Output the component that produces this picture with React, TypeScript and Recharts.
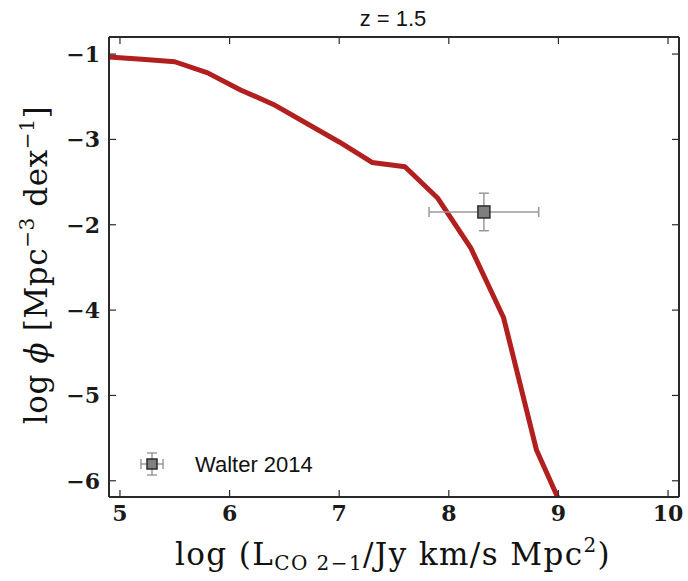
import React from "react";
import {
  ComposedChart,
  Line,
  Scatter,
  XAxis,
  YAxis,
  ErrorBar,
  Customized,
} from "recharts";

// Model luminosity function at z = 1.5
const logL = [4.9, 5.2, 5.5, 5.8, 6.1, 6.4, 7.0, 7.3, 7.6, 7.9, 8.2, 8.5, 8.8, 9.1];
const logPhi = [-1.035, -1.06, -1.09, -1.22, -1.42, -1.59, -2.03, -2.27, -2.32, -2.69, -3.27, -4.09, -5.64, -6.5];

// Walter 2014 measurement
const obsL = [8.32];
const obsPhi = [-2.85];
const obsLErr = [0.5];
const obsPhiErr = [0.22];

// Axis ticks and their printed labels
const xTicks = [5, 6, 7, 8, 9, 10];
const yTicks = [-1, -2, -3, -4, -5, -6];
const yTickLabels = ["\u22121", "\u22123", "\u22122", "\u22124", "\u22125", "\u22126"];

const modelData = logL.map((x, i) => ({ x, y: logPhi[i] }));
const obsData = obsL.map((x, i) => ({ x, y: obsPhi[i], xErr: obsLErr[i], yErr: obsPhiErr[i] }));

const W = 688;
const H = 581;
const X_DOMAIN: [number, number] = [4.9, 10.1];
const Y_DOMAIN: [number, number] = [-6.19, -0.8];

const AXIS_COLOR = "#2a2a2a";
const tickFont = { fontFamily: "DejaVu Serif", fontWeight: "bold", fontSize: 22, fill: "#1a1a1a" } as const;
const labelFont = "DejaVu Serif";

// tick marks only, no text (for the top and right sides of the frame)
const NoLabel = () => <g />;

const SquareMarker = (p: any) => (
  <rect x={p.cx - 6} y={p.cy - 6} width={12} height={12} fill="#7f7f7f" stroke="#2b2b2b" strokeWidth={1.5} />
);

const Decorations = () => (
  <g>
    {/* title */}
    <text x={393} y={26} textAnchor="middle" fontFamily="Liberation Sans" fontSize={22} fill="#111">
      z = 1.5
    </text>
    {/* y axis label */}
    <text
      transform="translate(47,265) rotate(-90)"
      textAnchor="middle"
      fontFamily={labelFont}
      fontSize={31}
      letterSpacing={0.6}
      fill="#111"
    >
      <tspan>log </tspan>
      <tspan fontStyle="italic">ϕ</tspan>
      <tspan> [Mpc</tspan>
      <tspan fontSize={20} dy={-13}>{"\u22123"}</tspan>
      <tspan dy={13}> dex</tspan>
      <tspan fontSize={20} dy={-13}>{"\u22121"}</tspan>
      <tspan dy={13}>]</tspan>
    </text>
    {/* x axis label */}
    <text x={393} y={565} textAnchor="middle" fontFamily={labelFont} fontSize={31} letterSpacing={1.4} fill="#111">
      <tspan>log (L</tspan>
      <tspan fontSize={20} dy={5}>{"CO 2\u22121"}</tspan>
      <tspan dy={-5}>/Jy km/s Mpc</tspan>
      <tspan fontSize={20} dy={-13}>2</tspan>
      <tspan dy={13}>)</tspan>
    </text>
    {/* legend */}
    <g stroke="#9a9a9a" strokeWidth={1.5}>
      <line x1={141} y1={464} x2={163} y2={464} />
      <line x1={141} y1={459} x2={141} y2={469} />
      <line x1={163} y1={459} x2={163} y2={469} />
      <line x1={152} y1={453} x2={152} y2={475} />
      <line x1={147} y1={453} x2={157} y2={453} />
      <line x1={147} y1={475} x2={157} y2={475} />
    </g>
    <rect x={147} y={459} width={10} height={10} fill="#7f7f7f" stroke="#2b2b2b" strokeWidth={1.5} />
    <text x={195} y={472} fontFamily="Liberation Sans" fontSize={22} fill="#111">
      Walter 2014
    </text>
  </g>
);

export default function App() {
  return (
    <div style={{ position: "absolute", left: 0, top: 0, width: W, height: H, background: "#fff" }}>
      <ComposedChart width={W} height={H} margin={{ top: 36, right: 8, bottom: 0, left: 0 }}>
        <XAxis
          xAxisId="bottom"
          type="number"
          dataKey="x"
          domain={X_DOMAIN}
          ticks={xTicks}
          allowDataOverflow
          height={84}
          orientation="bottom"
          stroke={AXIS_COLOR}
          strokeWidth={2}
          tickSize={-7}
          tickMargin={15}
          tickLine={{ stroke: AXIS_COLOR, strokeWidth: 1.2 }}
          tick={tickFont}
        />
        <XAxis
          xAxisId="top"
          type="number"
          dataKey="x"
          domain={X_DOMAIN}
          ticks={xTicks}
          allowDataOverflow
          height={1}
          orientation="top"
          stroke={AXIS_COLOR}
          strokeWidth={2}
          tickSize={-7}
          tick={NoLabel}
          tickLine={{ stroke: AXIS_COLOR, strokeWidth: 1.2 }}
        />
        <YAxis
          yAxisId="left"
          type="number"
          dataKey="y"
          domain={Y_DOMAIN}
          ticks={yTicks}
          allowDataOverflow
          width={109}
          orientation="left"
          stroke={AXIS_COLOR}
          strokeWidth={2}
          tickSize={-7}
          tickMargin={16}
          tickLine={{ stroke: AXIS_COLOR, strokeWidth: 1.2 }}
          tick={tickFont}
          tickFormatter={(v: number) => yTickLabels[yTicks.indexOf(v)] ?? String(v)}
        />
        <YAxis
          yAxisId="right"
          type="number"
          dataKey="y"
          domain={Y_DOMAIN}
          ticks={yTicks}
          allowDataOverflow
          width={1}
          orientation="right"
          stroke={AXIS_COLOR}
          strokeWidth={2}
          tickSize={-7}
          tick={NoLabel}
          tickLine={{ stroke: AXIS_COLOR, strokeWidth: 1.2 }}
        />
        {/* invisible copy so the top and right frame axes are registered */}
        <Line
          xAxisId="top"
          yAxisId="right"
          data={modelData}
          dataKey="y"
          stroke="none"
          dot={false}
          activeDot={false}
          legendType="none"
          isAnimationActive={false}
        />
        <Line
          xAxisId="bottom"
          yAxisId="left"
          data={modelData}
          dataKey="y"
          type="linear"
          stroke="#b21f1f"
          strokeWidth={5}
          strokeLinejoin="round"
          dot={false}
          activeDot={false}
          isAnimationActive={false}
        />
        <Scatter
          xAxisId="bottom"
          yAxisId="left"
          data={obsData}
          dataKey="y"
          shape={SquareMarker}
          isAnimationActive={false}
        >
          <ErrorBar dataKey="xErr" direction="x" width={5} stroke="#9a9a9a" strokeWidth={1.5} isAnimationActive={false} />
          <ErrorBar dataKey="yErr" direction="y" width={5} stroke="#9a9a9a" strokeWidth={1.5} isAnimationActive={false} />
        </Scatter>
        <Customized component={Decorations} />
      </ComposedChart>
    </div>
  );
}
